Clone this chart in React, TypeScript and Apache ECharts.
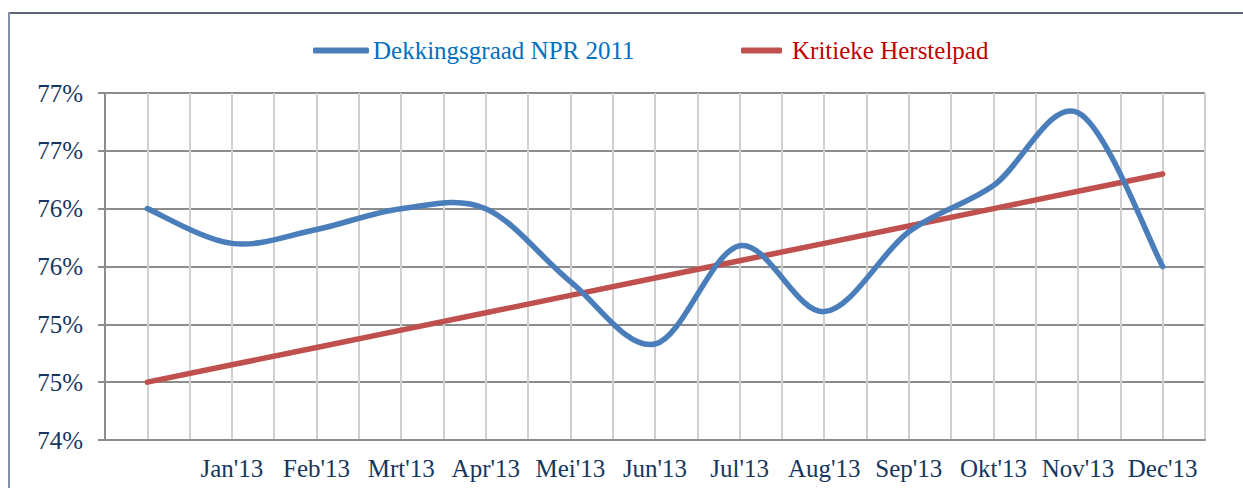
import React, { useEffect, useRef } from "react";
import * as echarts from "echarts";

const categories = ["", "Jan'13", "Feb'13", "Mrt'13", "Apr'13", "Mei'13", "Jun'13", "Jul'13", "Aug'13", "Sep'13", "Okt'13", "Nov'13", "Dec'13"];
const dekkingsgraad = [76.0, 75.7, 75.82, 76.0, 76.0, 75.37, 74.83, 75.68, 75.11, 75.8, 76.2, 76.83, 75.5];
const herstelpad = [74.5, 74.65, 74.8, 74.95, 75.1, 75.25, 75.4, 75.55, 75.7, 75.85, 76.0, 76.15, 76.3];
const yTickLabels = ["74%", "75%", "75%", "76%", "76%", "77%", "77%"];
const seriesNames = ["Dekkingsgraad NPR 2011", "Kritieke Herstelpad"];

const FONT = "'Liberation Serif', 'Times New Roman', serif";
const BLUE = "#4a7ebb";
const RED = "#c0504d";
const NAVY = "#17365d";

export default function App() {
  const ref = useRef<HTMLDivElement>(null);
  useEffect(() => {
    if (!ref.current) return;
    const chart = echarts.init(ref.current, null, { renderer: "svg" });
    const halfSlots = Array.from({ length: categories.length * 2 + 1 }, () => "");

    // Excel-style spline (Catmull-Rom) through the data points, mapped with the chart's own axes.
    const renderSpline = (params: any, api: any) => {
      if (params.dataIndex !== 0) return null;
      const pts = dekkingsgraad.map((v, i) => api.coord([i, v]));
      const n = pts.length;
      let d = `M${pts[0][0]},${pts[0][1]}`;
      for (let i = 0; i < n - 1; i++) {
        const p0 = pts[Math.max(i - 1, 0)];
        const p1 = pts[i];
        const p2 = pts[i + 1];
        const p3 = pts[Math.min(i + 2, n - 1)];
        const c1x = p1[0] + (p2[0] - p0[0]) / 6;
        const c1y = p1[1] + (p2[1] - p0[1]) / 6;
        const c2x = p2[0] - (p3[0] - p1[0]) / 6;
        const c2y = p2[1] - (p3[1] - p1[1]) / 6;
        d += ` C${c1x},${c1y} ${c2x},${c2y} ${p2[0]},${p2[1]}`;
      }
      return {
        type: "path",
        shape: { pathData: d },
        style: { stroke: BLUE, lineWidth: 5.5, fill: "none", lineCap: "round", lineJoin: "round" },
      };
    };

    chart.setOption({
      animation: false,
      backgroundColor: "#ffffff",
      textStyle: { fontFamily: FONT },
      grid: { left: 105, right: 38, top: 93, bottom: 48, containLabel: false },
      legend: [
        {
          data: [{ name: seriesNames[0], icon: "roundRect", itemStyle: { color: BLUE } }],
          left: 313,
          top: 38,
          padding: 0,
          itemWidth: 56,
          itemHeight: 6,
          textStyle: { fontFamily: FONT, fontSize: 25, color: "#0070c0", padding: [0, 0, 0, -1] },
        },
        {
          data: [{ name: seriesNames[1], icon: "roundRect", itemStyle: { color: RED } }],
          left: 741,
          top: 38,
          padding: 0,
          itemWidth: 41,
          itemHeight: 6,
          textStyle: { fontFamily: FONT, fontSize: 25, color: "#c00000", padding: [0, 0, 0, 5] },
        },
      ],
      xAxis: [
        {
          type: "category",
          data: categories,
          boundaryGap: true,
          axisLine: { show: true, lineStyle: { color: "#8c8c8c", width: 2 } },
          axisTick: { show: false },
          splitLine: { show: false },
          axisLabel: { interval: 0, margin: 16, fontFamily: FONT, fontSize: 25, color: NAVY },
          z: 3,
        },
        {
          type: "category",
          data: halfSlots,
          boundaryGap: false,
          show: true,
          axisLine: { show: false },
          axisTick: { show: false },
          axisLabel: { show: false },
          splitLine: { show: true, interval: 0, lineStyle: { color: "#d0d0d0", width: 2 } },
          position: "bottom",
        },
      ],
      yAxis: [
        {
          type: "value",
          min: 74,
          max: 77,
          interval: 0.5,
          axisLine: { show: true, lineStyle: { color: "#8c8c8c", width: 2 } },
          axisTick: { show: true, length: 7, lineStyle: { color: "#8c8c8c", width: 2 } },
          splitLine: { show: true, lineStyle: { color: "#8c8c8c", width: 2 } },
          axisLabel: {
            show: true,
            margin: 22,
            fontFamily: FONT,
            fontSize: 25,
            color: NAVY,
            formatter: (v: number) => "{y|" + (yTickLabels[Math.round((v - 74) / 0.5)] ?? "") + "}",
            rich: { y: { fontFamily: FONT, fontSize: 25, color: NAVY } },
          },
        },
      ],
      series: [
        {
          name: seriesNames[0],
          type: "custom",
          coordinateSystem: "cartesian2d",
          xAxisIndex: 0,
          yAxisIndex: 0,
          data: dekkingsgraad.map((v, i) => [i, v]),
          encode: { x: 0, y: 1 },
          renderItem: renderSpline,
          itemStyle: { color: BLUE },
          clip: false,
          z: 5,
        },
        {
          name: seriesNames[1],
          type: "line",
          data: herstelpad,
          symbol: "none",
          lineStyle: { color: RED, width: 5.5, cap: "round" },
          itemStyle: { color: RED },
          z: 4,
        },
      ],
      graphic: [
        { type: "line", shape: { x1: 8, y1: 13, x2: 1243, y2: 13 }, style: { stroke: "#5d6678", lineWidth: 2 } },
        { type: "line", shape: { x1: 9, y1: 12, x2: 9, y2: 488 }, style: { stroke: "#8391a8", lineWidth: 2 } },
      ],
    });
    return () => chart.dispose();
  }, []);
  return <div ref={ref} style={{ position: "fixed", left: 0, top: 0, width: 1243, height: 488 }} />;
}
